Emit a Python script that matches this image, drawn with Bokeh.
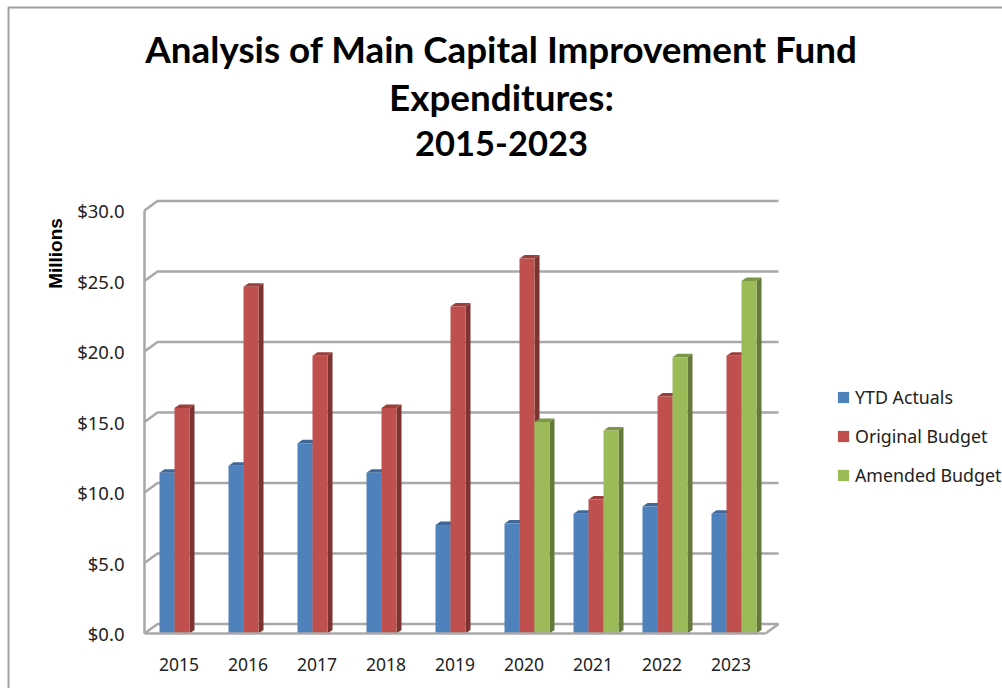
from bokeh.embed import file_html
from bokeh.resources import INLINE
from bokeh.plotting import figure
from bokeh.models import (FixedTicker, Label, Legend, LegendItem, LinearAxis,
                          NumeralTickFormatter, Range1d)

years = ["2015", "2016", "2017", "2018", "2019", "2020", "2021", "2022", "2023"]
ytd_actuals = [11.4, 11.9, 13.5, 11.4, 7.7, 7.8, 8.5, 9.0, 8.5]
original_budget = [16.0, 24.6, 19.7, 16.0, 23.2, 26.6, 9.5, 16.8, 19.7]
amended_budget = [None, None, None, None, None, 15.0, 14.4, 19.6, 25.0]
y_ticks = [0, 5, 10, 15, 20, 25, 30]
title_lines = ["Analysis of Main Capital Improvement Fund", "Expenditures:", "2015-2023"]
title_sizes = ["36.8px", "36.8px", "34.5px"]
title_rows = [48, 96, 143]

W, H = 1002, 688
X0, Y0 = 144, 633   # canvas position of the origin
GRID = "#a8a8a8"
PX_X = 69.0      # pixels per category
PX_Y = 14.1      # pixels per million
BAR_W = 15 / PX_X
BAR_START = 15 / PX_X
SIDE_DX = 5 / PX_X
SIDE_DY = 3.5 / PX_Y
WALL_DX = 13 / PX_X
WALL_DY = 9.5 / PX_Y


def dx(px):
    return (px - X0) / PX_X


def dy(py):
    return (Y0 - py) / PX_Y


p = figure(width=W, height=H, output_backend="svg", toolbar_location=None,
           x_range=Range1d(dx(0), dx(W)), y_range=Range1d(dy(H), dy(0)),
           min_border=0, min_border_left=0, min_border_right=0, min_border_top=0, min_border_bottom=0,
           x_axis_location=None, y_axis_location=None, background_fill_color="white")
p.grid.visible = False
p.outline_line_color = None

ax = LinearAxis(fixed_location=0)
ay = LinearAxis(fixed_location=0)
p.add_layout(ax, "below")
p.add_layout(ay, "left")
ax.ticker = FixedTicker(ticks=[i + 0.5 for i in range(len(years))])
ax.major_label_overrides = {i + 0.5: y for i, y in enumerate(years)}
ax.bounds = (0, len(years))
ay.ticker = FixedTicker(ticks=y_ticks)
ay.formatter = NumeralTickFormatter(format="$0.0")
ay.bounds = (y_ticks[0], y_ticks[-1])
for a in (ax, ay):
    a.axis_line_color = GRID
    a.axis_line_width = 2.5
    a.major_tick_line_color = None
    a.minor_tick_line_color = None
    a.major_label_text_font = "Noto Sans"
    a.major_label_text_color = "#222222"
ax.major_label_text_font_size = "17.5px"
ay.major_label_text_font_size = "18.5px"
ax.major_label_standoff = 18
ay.major_label_standoff = 14

# Outer chart border, left and top only
p.line([dx(8), dx(8), dx(W)], [dy(H), dy(7), dy(7)], line_color="#a0a0a0", line_width=2)

# Back wall, gridlines and floor
n = len(years)
xs, ys = [], []
for t in y_ticks:
    xs.append([0, WALL_DX, n + WALL_DX])
    ys.append([t, t + WALL_DY, t + WALL_DY])
xs.append([n, n + WALL_DX])
ys.append([0, WALL_DY])
p.multi_line(xs, ys, line_color=GRID, line_width=2.5)

series = [
    ("YTD Actuals", ytd_actuals, "#4f81bd", "#35567f", "#3f6797", 0),
    ("Original Budget", original_budget, "#c0504d", "#7c3331", "#9a3f3d", 1),
    ("Amended Budget", amended_budget, "#9bbb59", "#64793a", "#7c9647", 2),
]
items = []
for name, vals, face, side, top, k in series:
    idx = [i for i, v in enumerate(vals) if v is not None]
    v = [vals[i] for i in idx]
    left = [i + BAR_START + k * BAR_W for i in idx]
    right = [l + BAR_W for l in left]
    p.patches([[r, r + SIDE_DX, r + SIDE_DX, r] for r in right],
              [[0, SIDE_DY, h + SIDE_DY, h] for h in v],
              fill_color=side, line_color=None)
    p.patches([[l, l + SIDE_DX, r + SIDE_DX, r] for l, r in zip(left, right)],
              [[h, h + SIDE_DY, h + SIDE_DY, h] for h in v],
              fill_color=top, line_color=None)
    q = p.quad(left=left, right=right, bottom=0, top=v, fill_color=face, line_color=None)
    items.append(LegendItem(label=name, renderers=[q]))

legend = Legend(items=items, location=(836, H - 487), orientation="vertical",
                background_fill_alpha=0, border_line_color=None, padding=0, margin=0,
                spacing=15, glyph_width=14, glyph_height=14, label_standoff=5,
                label_text_font="Noto Sans", label_text_font_size="17.8px",
                label_text_color="#222222", label_height=22)
p.add_layout(legend, "center")

for line, py, fs in zip(title_lines, title_rows, title_sizes):
    p.add_layout(Label(x=dx(501), y=dy(py), text=line, text_align="center", text_baseline="middle",
                       text_font="Lato", text_font_style="bold", text_font_size=fs,
                       text_color="#000000"))

p.add_layout(Label(x=dx(55), y=dy(253), text="Millions",
                   angle=90, angle_units="deg", text_align="center", text_baseline="middle",
                   text_font="Liberation Sans", text_font_style="bold", text_font_size="19px",
                   text_color="#000000"))

open("out.html", "w").write(file_html(p, INLINE))
